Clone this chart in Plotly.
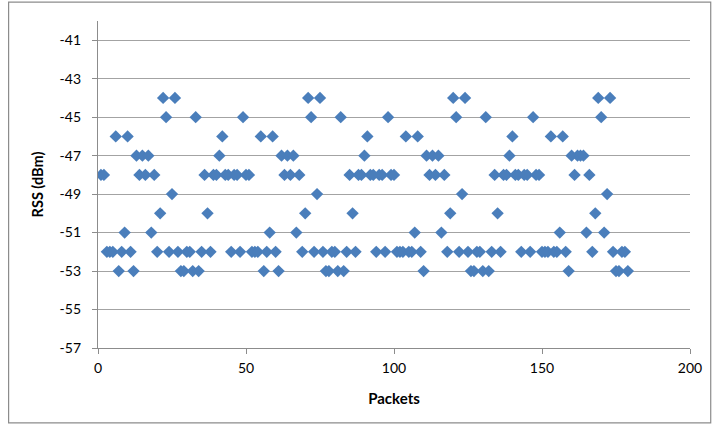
import plotly.graph_objects as go

# Received signal strength per packet
packets = list(range(1, 180))
rss_dbm = [
    -48, -48, -52, -52, -52, -46, -53, -52, -51, -46,   # 1-10
    -52, -53, -47, -48, -47, -48, -47, -51, -48, -52,   # 11-20
    -50, -44, -45, -52, -49, -44, -52, -53, -53, -52,   # 21-30
    -52, -53, -45, -53, -52, -48, -50, -52, -48, -48,   # 31-40
    -47, -46, -48, -48, -52, -48, -48, -52, -45, -48,   # 41-50
    -48, -52, -52, -52, -46, -53, -52, -51, -46, -52,   # 51-60
    -53, -47, -48, -47, -48, -47, -51, -48, -52, -50,   # 61-70
    -44, -45, -52, -49, -44, -52, -53, -53, -52, -52,   # 71-80
    -53, -45, -53, -52, -48, -50, -52, -48, -48, -47,   # 81-90
    -46, -48, -48, -52, -48, -48, -52, -45, -48, -48,   # 91-100
    -52, -52, -52, -46, -52, -52, -51, -46, -52, -53,   # 101-110
    -47, -48, -47, -48, -47, -51, -48, -52, -50, -44,   # 111-120
    -45, -52, -49, -44, -52, -53, -53, -52, -52, -53,   # 121-130
    -45, -53, -52, -48, -50, -52, -48, -48, -47, -46,   # 131-140
    -48, -48, -52, -48, -48, -52, -45, -48, -48, -52,   # 141-150
    -52, -52, -46, -52, -52, -51, -46, -52, -53, -47,   # 151-160
    -48, -47, -47, -47, -51, -48, -52, -50, -44, -45,   # 161-170
    -51, -49, -44, -52, -53, -53, -52, -52, -53,        # 171-179
]

x_ticks = [0, 50, 100, 150, 200]
y_ticks = [-57, -55, -53, -51, -49, -47, -45, -43, -41]

FONT = "Lato, 'Open Sans', sans-serif"
GRID = "#a3a3a3"
AXIS = "#8c8c8c"

fig = go.Figure(
    go.Scatter(
        x=packets,
        y=rss_dbm,
        mode="markers",
        marker=dict(symbol="diamond", size=9.5, color="#4a7ebb", line=dict(width=0)),
        showlegend=False,
    )
)

fig.update_layout(
    width=714,
    height=424,
    margin=dict(l=98, r=20, t=21, b=76, pad=0),
    paper_bgcolor="white",
    plot_bgcolor="white",
    font=dict(family=FONT, size=14, color="#000000"),
)

fig.update_xaxes(
    range=[0, 200],
    tickvals=x_ticks,
    ticktext=[str(v) for v in x_ticks],
    showgrid=False,
    zeroline=False,
    showline=True,
    linecolor=AXIS,
    linewidth=1.3,
    ticks="outside",
    ticklen=5,
    tickcolor=AXIS,
    tickwidth=1.3,
    ticklabelstandoff=2,
    tickfont=dict(size=14),
    title=dict(text="<b>Packets</b>", font=dict(size=15), standoff=18),
)

fig.update_yaxes(
    range=[-57, -40],
    tickvals=y_ticks,
    ticktext=[str(v) for v in y_ticks],
    showgrid=True,
    gridcolor=GRID,
    gridwidth=1.3,
    zeroline=False,
    showline=True,
    linecolor=AXIS,
    linewidth=1.3,
    ticks="outside",
    ticklen=5,
    tickcolor=AXIS,
    tickwidth=1.3,
    ticklabelstandoff=8,
    tickfont=dict(size=14),
    title=dict(text="<b>RSS (dBm)</b>", font=dict(size=14.5), standoff=12),
)

# Chart-area frame around the whole figure
fig.add_shape(
    type="rect",
    xref="paper", yref="paper",
    x0=-0.151, x1=1.035, y0=-0.229, y1=1.058,
    line=dict(color="#8c8c8c", width=1.2),
    fillcolor="rgba(0,0,0,0)",
    layer="below",
)

fig.write_html("out.html")
